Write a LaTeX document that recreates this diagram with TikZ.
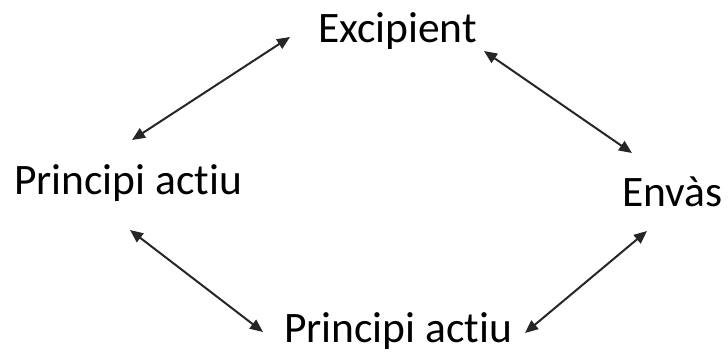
\documentclass[tikz,border=0pt]{standalone}
\usepackage{fontspec}
\setmainfont[Ligatures=NoCommon]{Carlito}
\usetikzlibrary{arrows.meta}

\begin{document}
\begin{tikzpicture}[x=1pt, y=1pt,
    lbl/.style={inner sep=0pt, outer sep=0pt, anchor=base west, font=\fontsize{43.5}{50}\selectfont},
    link/.style={{Triangle[length=13pt,width=11pt]}-{Triangle[length=13pt,width=11pt]}, line width=2pt, black!85}]
  \useasboundingbox (0,0) rectangle (728,353);
  \node(ex)[lbl] at (318,310) {Excipient};
  \node(pl)[lbl] at (14,158) {Principi actiu};
  \node(en)[lbl] at (622,146) {Envàs};
  \node(pb)[lbl] at (284,10) {Principi actiu};
  \draw[link] ([shift={(118,55)}]pl.base west) -- ([shift={(-28,6)}]ex.base west);
  \draw[link] ([shift={(166,-8)}]ex.base west) -- ([shift={(10,54)}]en.base west);
  \draw[link] ([shift={(116,-35)}]pl.base west) -- ([shift={(-21,11)}]pb.base west);
  \draw[link] ([shift={(25,-24)}]en.base west) -- ([shift={(241,10)}]pb.base west);
\end{tikzpicture}
\end{document}
